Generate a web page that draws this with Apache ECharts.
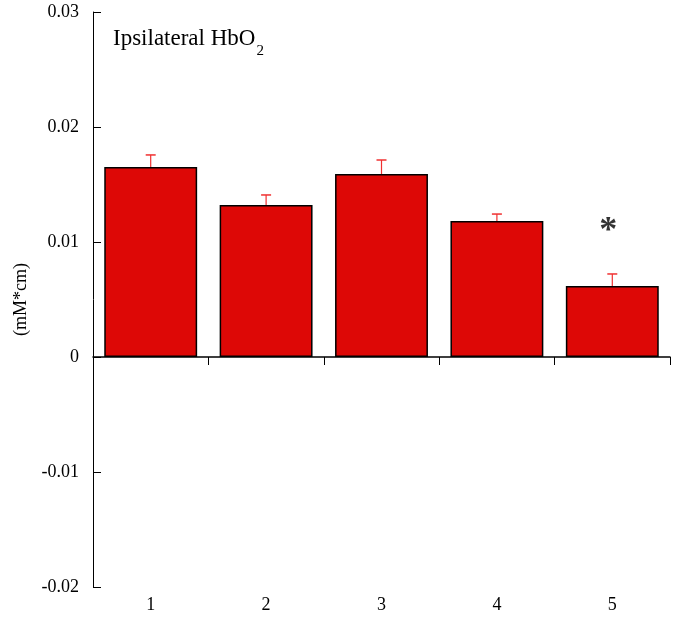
<!DOCTYPE html>
<html>
<head>
<meta charset="utf-8">
<script src="https://cdn.jsdelivr.net/npm/echarts@6/dist/echarts.min.js"></script>
<style>html,body{margin:0;padding:0;background:#fff;}#c{width:676px;height:621px;}</style>
</head>
<body>
<div id="c"></div>
<script>
var categories = ['1', '2', '3', '4', '5'];
var means = [0.01652, 0.01322, 0.01591, 0.01183, 0.00617];
var errors = [0.00105, 0.00087, 0.00122, 0.0006, 0.00105];
var marks = ['', '', '', '', '*'];
var markLevel = [null, null, null, null, 0.0114];
var yTicks = [-0.02, -0.01, 0, 0.01, 0.02, 0.03];

var font = '"Liberation Serif", "Times New Roman", serif';
var chart = echarts.init(document.getElementById('c'));
chart.setOption({
  animation: false,
  backgroundColor: '#fff',
  grid: {left: 93, right: 6, top: 12, bottom: 34},
  title: {
    text: '{a|Ipsilateral HbO}{s|2}',
    left: 113, top: 27, padding: 0,
    textStyle: {fontWeight: 'normal', rich: {
      a: {fontFamily: font, fontSize: 23, fontWeight: 'normal', color: '#000', verticalAlign: 'top', lineHeight: 26},
      s: {fontFamily: font, fontSize: 15, fontWeight: 'normal', color: '#000', verticalAlign: 'bottom', lineHeight: 32, padding: [0, 0, 0, 1]}
    }}
  },
  xAxis: [{
    type: 'category', data: categories, position: 'bottom',
    axisLine: {show: false, onZero: false}, axisTick: {show: false},
    axisLabel: {fontFamily: font, fontSize: 18, color: '#000', margin: 9}
  }, {
    type: 'category', data: categories,
    axisLine: {show: true, onZero: true, lineStyle: {color: '#000', width: 1.5}},
    axisTick: {show: true, inside: true, length: 8, lineStyle: {color: '#000'}},
    axisLabel: {show: false}
  }],
  yAxis: {
    type: 'value', min: -0.02, max: 0.03, interval: 0.01,
    name: '(mM*cm)', nameLocation: 'middle', nameGap: 60,
    nameTextStyle: {fontFamily: font, fontSize: 18, color: '#000'},
    axisLine: {show: true, lineStyle: {color: '#000', width: 1}},
    axisTick: {show: true, inside: true, length: 8, lineStyle: {color: '#000'}},
    splitLine: {show: false},
    axisLabel: {fontFamily: font, fontSize: 18, color: '#000', margin: 14,
      formatter: function (v) { var r = Math.round(v * 100) / 100; return r === 0 ? '0' : String(r); }}
  },
  series: [{
    type: 'bar', data: means, barCategoryGap: '19.5%', z: 2,
    itemStyle: {color: '#dd0806', borderColor: '#000', borderWidth: 1.5}
  }, {
    type: 'custom', z: 3,
    data: means.map(function (m, i) { return [i, m, m + errors[i]]; }),
    renderItem: function (params, api) {
      var p0 = api.coord([api.value(0), api.value(1)]);
      var p1 = api.coord([api.value(0), api.value(2)]);
      var w = 5;
      return {type: 'group', children: [
        {type: 'line', shape: {x1: p0[0], y1: p0[1], x2: p1[0], y2: p1[1]}, style: {stroke: '#f03030', lineWidth: 1.2}},
        {type: 'line', shape: {x1: p1[0] - w, y1: p1[1], x2: p1[0] + w, y2: p1[1]}, style: {stroke: '#f03030', lineWidth: 1.5}}
      ]};
    }
  }, {
    type: 'scatter', symbolSize: 0, z: 4,
    data: markLevel.map(function (v, i) { return v === null ? null : [i, v]; }).filter(function (d) { return d; }),
    label: {show: true, position: 'inside', fontFamily: font, fontSize: 36, fontWeight: 'bold', color: '#000',
      formatter: function (p) { return marks[p.data[0]]; }, offset: [-4, 6]}
  }]
});
</script>
</body>
</html>
